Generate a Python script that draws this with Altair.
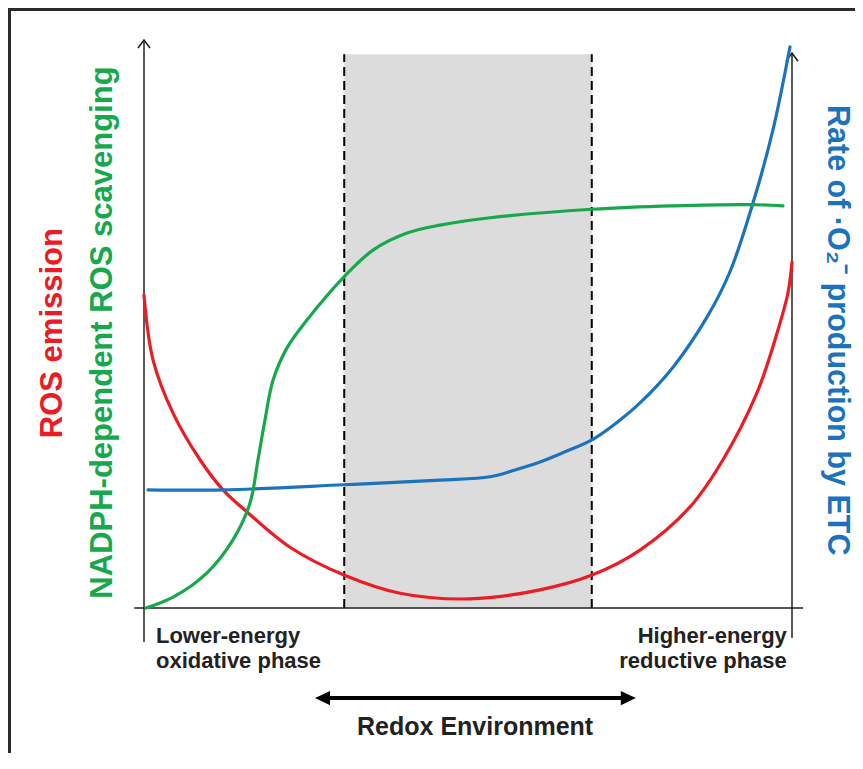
import altair as alt
import pandas as pd

# ---- data (x: 0 = left axis, 100 = right axis; y: 0 = bottom axis, 100 = top of left axis)
red_x = [0, 1.39, 4.48, 8.64, 12.19, 15.9, 22.53, 30.86, 39.5, 50.3, 61.11, 69.14, 76.54, 84.26, 89.35,
         94.6, 97.69, 99.38, 100]
red_y = [55.1, 43.7, 34.3, 26.1, 20.8, 16.9, 10.7, 5.8, 2.6, 1.6, 3.2, 5.8, 10.2, 17.8, 26.1,
         37.9, 48.4, 55.5, 60.9]

green_x = [0.3, 4.48, 9.72, 13.73, 16.36, 17.59, 18.67, 19.91, 22.07, 25.15, 30.86, 35.34, 40.59, 45.68,
           53.4, 69.14, 81.64, 93.83, 98.61]
green_y = [0.0, 1.9, 6.2, 12.0, 18.5, 26.1, 33.1, 40.1, 45.8, 50.7, 58.3, 63.0, 66.0, 67.4,
           68.7, 70.2, 70.8, 71.0, 70.8]

blue_x = [0.62, 12.19, 30.86, 45.68, 53.4, 57.25, 61.11, 64.97, 69.14, 72.69, 76.54, 81.64, 86.88, 90.43,
          93.98, 97.07, 99.69]
blue_y = [20.8, 20.8, 21.7, 22.5, 23.1, 24.3, 25.7, 27.5, 29.6, 32.4, 36.1, 42.4, 51.2, 59.2,
          71.3, 84.2, 98.8]

zone_x = [30.9, 69.1]
zone_top = 97.5

y_labels = ["ROS emission", "NADPH-dependent ROS scavenging", "Rate of \u00b7O\u2082\u207b production by ETC"]
x_left_labels = ["Lower-energy", "oxidative phase"]
x_right_labels = ["Higher-energy", "reductive phase"]
x_title = "Redox Environment"

RED, GREEN, BLUE = "#ec1c24", "#17a84b", "#1b73be"
FONT = "Liberation Sans, Arial, Helvetica, sans-serif"
INK = "#222222"

xs = alt.Scale(domain=[0, 100], range=[136, 784], nice=False, zero=False)
ys = alt.Scale(domain=[0, 100], range=[600, 32], nice=False, zero=False)


def X(f):
    return alt.X(f, type="quantitative", scale=xs, axis=None)


def Y(f):
    return alt.Y(f, type="quantitative", scale=ys, axis=None)


def curve(xv, yv, color):
    df = pd.DataFrame({"x": xv, "y": yv})
    return alt.Chart(df).mark_line(interpolate="catmull-rom", strokeWidth=3.2, color=color,
                                   strokeCap="round").encode(x=X("x"), y=Y("y"))


# shaded redox zone
zone = alt.Chart(pd.DataFrame({"x": [zone_x[0]], "x2": [zone_x[1]], "y": [0], "y2": [zone_top]})).mark_rect(
    color="#dcdcdc").encode(x=X("x"), x2="x2", y=Y("y"), y2="y2")

dashes = alt.Chart(pd.DataFrame({"x": zone_x, "y": [0, 0], "y2": [zone_top, zone_top]})).mark_rule(
    color="black", strokeWidth=2, strokeDash=[9, 5]).encode(x=X("x"), y=Y("y"), y2="y2")

# axis lines
axes_df = pd.DataFrame({"x": [0, 100, -1.5], "x2": [0, 100, 101.7],
                        "y": [-6.0, -5.3, 0], "y2": [100, 97.7, 0]})
axes = alt.Chart(axes_df).mark_rule(color=INK, strokeWidth=1.5).encode(
    x=X("x"), x2="x2", y=Y("y"), y2="y2")

heads = alt.Chart(pd.DataFrame({"x": [0, 100], "y": [100, 97.7]})).mark_point(
    shape="M-1,1.35L0,0L1,1.35", filled=False, size=144, strokeWidth=1.6, color=INK, opacity=1
).encode(x=X("x"), y=Y("y"))

# frame (left and top edges)
frame_l = alt.Chart(pd.DataFrame({"a": [0]})).mark_rule(color="#2a2a2a", strokeWidth=3).encode(
    x=alt.value(1.5), y=alt.value(0), y2=alt.value(745))
frame_t = alt.Chart(pd.DataFrame({"a": [0]})).mark_rule(color="#2a2a2a", strokeWidth=3).encode(
    x=alt.value(0), x2=alt.value(847), y=alt.value(1.5))

# redox double arrow
arrow_line = alt.Chart(pd.DataFrame({"x": [28.0], "x2": [74.3], "y": [-15.85]})).mark_rule(
    color="black", strokeWidth=4).encode(x=X("x"), x2="x2", y=Y("y"))
arrow_l = alt.Chart(pd.DataFrame({"x": [26.4], "y": [-15.85]})).mark_point(
    shape="M0,0L2,-0.95L2,0.95Z", filled=True, size=225, color="black", opacity=1
).encode(x=X("x"), y=Y("y"))
arrow_r = alt.Chart(pd.DataFrame({"x": [75.9], "y": [-15.85]})).mark_point(
    shape="M0,0L-2,-0.95L-2,0.95Z", filled=True, size=225, color="black", opacity=1
).encode(x=X("x"), y=Y("y"))


def label(text, x, y, color, angle=0, size=30, align="center", baseline="middle"):
    df = pd.DataFrame({"x": [x], "y": [y], "t": [text]})
    kw = dict(font=FONT, fontWeight="bold", fontSize=size, color=color, align=align, baseline=baseline)
    if angle:
        kw["angle"] = angle
    return alt.Chart(df).mark_text(**kw).encode(x=X("x"), y=Y("y"), text="t:N")


texts = [
    label(y_labels[0], -14.0, 48.4, RED, angle=270, size=31),
    label(y_labels[1], -6.3, 48.5, GREEN, angle=270, size=31),
    label(y_labels[2], 106.9, 48.9, BLUE, angle=90, size=30.5),
    label(x_left_labels[0], 1.85, -6.16, INK, size=22, align="left", baseline="alphabetic"),
    label(x_left_labels[1], 1.85, -10.56, INK, size=22, align="left", baseline="alphabetic"),
    label(x_right_labels[0], 99.2, -6.16, INK, size=22, align="right", baseline="alphabetic"),
    label(x_right_labels[1], 99.2, -10.56, INK, size=22, align="right", baseline="alphabetic"),
    label(x_title, 51.1, -22.36, INK, size=25, baseline="alphabetic"),
]

chart = alt.layer(
    zone, dashes, axes, heads, frame_l, frame_t,
    curve(red_x, red_y, RED), curve(blue_x, blue_y, BLUE), curve(green_x, green_y, GREEN),
    arrow_line, arrow_l, arrow_r, *texts
).properties(width=847, height=745, padding=0, autosize="none", background="white"
).configure_view(strokeWidth=0)

chart.save("out.html", embed_options={"renderer": "svg", "actions": False})
